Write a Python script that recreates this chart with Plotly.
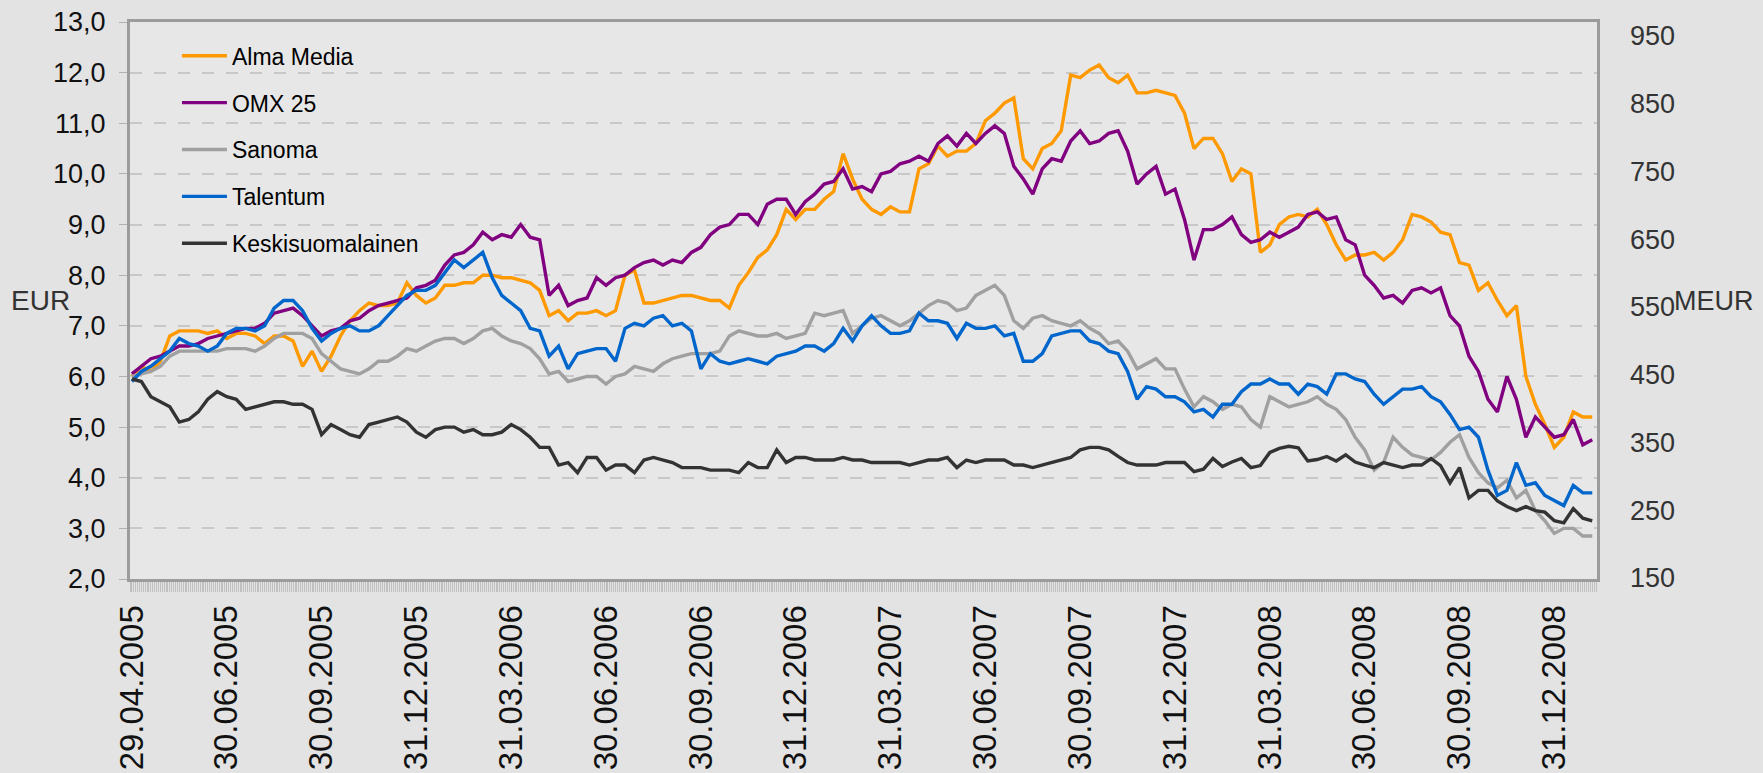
import plotly.graph_objects as go

# quarter-end tick labels, one every 10 samples
x_labels = ["29.04.2005", "30.06.2005", "30.09.2005", "31.12.2005",
            "31.03.2006", "30.06.2006", "30.09.2006", "31.12.2006",
            "31.03.2007", "30.06.2007", "30.09.2007", "31.12.2007",
            "31.03.2008", "30.06.2008", "30.09.2008", "31.12.2008"]

alma_media = [
    6.0, 6.2, 6.1, 6.3, 6.8, 6.9, 6.9, 6.9, 6.85, 6.9, 6.75, 6.85, 6.85, 6.8, 6.65, 6.8, 6.8, 6.7, 6.2, 6.5,
    6.1, 6.4, 6.8, 7.1, 7.3, 7.45, 7.4,
    7.4, 7.45, 7.85, 7.6, 7.45, 7.55, 7.8, 7.8, 7.85, 7.85, 8.0, 8.0, 7.95, 7.95, 7.9, 7.85, 7.7, 7.2, 7.3,
    7.1, 7.25, 7.25, 7.3, 7.2, 7.3, 8.0,
    8.1, 7.45, 7.45, 7.5, 7.55, 7.6, 7.6, 7.55, 7.5, 7.5, 7.35, 7.8, 8.05, 8.35, 8.5, 8.8, 9.3, 9.1, 9.3,
    9.3, 9.5, 9.65, 10.4, 9.9, 9.5,
    9.3, 9.2, 9.35, 9.25, 9.25, 10.1, 10.2, 10.55, 10.35, 10.45, 10.45, 10.6, 11.05, 11.2, 11.4, 11.5, 10.3,
    10.1, 10.5, 10.6, 10.85, 11.95, 11.9, 12.05, 12.15, 11.9,
    11.8, 11.95, 11.6, 11.6, 11.65, 11.6, 11.55, 11.2, 10.5, 10.7, 10.7, 10.4, 9.85, 10.1, 10.0,
    8.45, 8.6, 9.0, 9.15, 9.2, 9.15, 9.3, 9.0, 8.6, 8.3, 8.4,
    8.4, 8.45, 8.3, 8.45, 8.7, 9.2, 9.15, 9.05, 8.85, 8.8, 8.25, 8.2, 7.7, 7.85, 7.5, 7.2, 7.4, 6.0, 5.45,
    5.05, 4.6, 4.8, 5.3, 5.2, 5.2,
]

omx_25 = [
    6.05, 6.2, 6.35, 6.4, 6.5, 6.6, 6.6, 6.65, 6.75, 6.8, 6.85, 6.9, 6.95, 6.95, 7.05, 7.25, 7.3, 7.35, 7.2,
    7.0, 6.8, 6.9, 6.95, 7.1, 7.15, 7.3, 7.4,
    7.45, 7.5, 7.55, 7.75, 7.8, 7.9, 8.2, 8.4, 8.45, 8.6, 8.85, 8.7, 8.8, 8.75, 9.0, 8.75, 8.7, 7.6, 7.8,
    7.4, 7.5, 7.55, 7.95, 7.8, 7.95, 8.0,
    8.15, 8.25, 8.3, 8.2, 8.3, 8.25, 8.45, 8.55, 8.8, 8.95, 9.0, 9.2, 9.2, 9.0, 9.4, 9.5, 9.5, 9.2, 9.45,
    9.6, 9.8, 9.85, 10.1, 9.7, 9.75,
    9.65, 10.0, 10.05, 10.2, 10.25, 10.35, 10.25, 10.6, 10.75, 10.55, 10.8, 10.6, 10.8, 10.95, 10.8, 10.15,
    9.9, 9.6, 10.1, 10.3, 10.25, 10.65, 10.85, 10.6, 10.65, 10.8,
    10.85, 10.45, 9.8, 10.0, 10.15, 9.6, 9.7, 9.1, 8.3, 8.9, 8.9, 9.0, 9.15, 8.8, 8.65, 8.7, 8.85, 8.75,
    8.85, 8.95, 9.2, 9.25, 9.1, 9.15, 8.7, 8.6,
    8.0, 7.8, 7.55, 7.6, 7.45, 7.7, 7.75, 7.65, 7.75, 7.2, 7.0, 6.4, 6.1, 5.55, 5.3, 6.0, 5.55, 4.8, 5.2,
    5.0, 4.8, 4.85, 5.15, 4.65, 4.75,
]

sanoma = [
    6.0, 6.05, 6.1, 6.2, 6.4, 6.5, 6.5, 6.5, 6.5, 6.5, 6.55, 6.55, 6.55, 6.5, 6.6, 6.75, 6.85, 6.85, 6.85,
    6.75, 6.45, 6.3, 6.15, 6.1, 6.05, 6.15, 6.3,
    6.3, 6.4, 6.55, 6.5, 6.6, 6.7, 6.75, 6.75, 6.65, 6.75, 6.9, 6.95, 6.8, 6.7, 6.65, 6.55, 6.35, 6.05,
    6.1, 5.9, 5.95, 6.0, 6.0, 5.85, 6.0, 6.05,
    6.2, 6.15, 6.1, 6.25, 6.35, 6.4, 6.45, 6.45, 6.45, 6.5, 6.8, 6.9, 6.85, 6.8, 6.8, 6.85, 6.75, 6.8,
    6.85, 7.25, 7.2, 7.25, 7.3, 6.85, 7.0,
    7.15, 7.2, 7.1, 7.0, 7.1, 7.25, 7.4, 7.5, 7.45, 7.3, 7.35, 7.6, 7.7, 7.8, 7.6, 7.1, 6.95, 7.15, 7.2,
    7.1, 7.05, 7.0, 7.1, 6.95, 6.85, 6.65,
    6.7, 6.5, 6.15, 6.25, 6.35, 6.15, 6.15, 5.75, 5.4, 5.6, 5.5, 5.35, 5.45, 5.4, 5.15, 5.0, 5.6, 5.5,
    5.4, 5.45, 5.5, 5.6, 5.45, 5.35, 5.15, 4.8,
    4.55, 4.15, 4.3, 4.8, 4.6, 4.45, 4.4, 4.35, 4.5, 4.7, 4.85, 4.4, 4.1, 3.9, 3.8, 3.95, 3.6, 3.75, 3.35,
    3.15, 2.9, 3.0, 3.0, 2.85, 2.85,
]

talentum = [
    5.9, 6.1, 6.2, 6.35, 6.5, 6.75, 6.65, 6.6, 6.5, 6.6, 6.85, 6.95, 6.95, 6.9, 7.0, 7.35, 7.5, 7.5, 7.3,
    6.95, 6.7, 6.85, 6.95, 7.0, 6.9, 6.9, 7.0,
    7.2, 7.4, 7.6, 7.7, 7.7, 7.8, 8.05, 8.3, 8.15, 8.3, 8.45, 7.95, 7.6, 7.45, 7.3, 6.95, 6.9, 6.4, 6.6,
    6.15, 6.45, 6.5, 6.55, 6.55, 6.3, 6.95,
    7.05, 7.0, 7.15, 7.2, 7.0, 7.05, 6.9, 6.15, 6.45, 6.3, 6.25, 6.3, 6.35, 6.3, 6.25, 6.4, 6.45, 6.5,
    6.6, 6.6, 6.5, 6.65, 6.95, 6.7, 7.0,
    7.2, 7.0, 6.85, 6.85, 6.9, 7.25, 7.1, 7.1, 7.05, 6.75, 7.05, 6.95, 6.95, 7.0, 6.8, 6.85, 6.3, 6.3,
    6.45, 6.8, 6.85, 6.9, 6.9, 6.7, 6.65, 6.5,
    6.45, 6.1, 5.55, 5.8, 5.75, 5.6, 5.6, 5.5, 5.3, 5.35, 5.2, 5.45, 5.45, 5.7, 5.85, 5.85, 5.95, 5.85,
    5.85, 5.65, 5.85, 5.8, 5.65, 6.05, 6.05, 5.95,
    5.9, 5.65, 5.45, 5.6, 5.75, 5.75, 5.8, 5.6, 5.5, 5.25, 4.95, 5.0, 4.8, 4.15, 3.65, 3.75, 4.3, 3.85,
    3.9, 3.65, 3.55, 3.45, 3.85, 3.7, 3.7,
]

keskisuomalainen = [
    5.95, 5.9, 5.6, 5.5, 5.4, 5.1, 5.15, 5.3, 5.55, 5.7, 5.6, 5.55, 5.35, 5.4, 5.45, 5.5, 5.5, 5.45, 5.45,
    5.35, 4.85, 5.05, 4.95, 4.85, 4.8, 5.05, 5.1,
    5.15, 5.2, 5.1, 4.9, 4.8, 4.95, 5.0, 5.0, 4.9, 4.95, 4.85, 4.85, 4.9, 5.05, 4.95, 4.8, 4.6, 4.6, 4.25,
    4.3, 4.1, 4.4, 4.4, 4.15, 4.25, 4.25,
    4.1, 4.35, 4.4, 4.35, 4.3, 4.2, 4.2, 4.2, 4.15, 4.15, 4.15, 4.1, 4.3, 4.2, 4.2, 4.55, 4.3, 4.4, 4.4,
    4.35, 4.35, 4.35, 4.4, 4.35, 4.35,
    4.3, 4.3, 4.3, 4.3, 4.25, 4.3, 4.35, 4.35, 4.4, 4.2, 4.35, 4.3, 4.35, 4.35, 4.35, 4.25, 4.25, 4.2,
    4.25, 4.3, 4.35, 4.4, 4.55, 4.6, 4.6, 4.55,
    4.42, 4.3, 4.25, 4.25, 4.25, 4.3, 4.3, 4.3, 4.12, 4.17, 4.38, 4.22, 4.31, 4.38, 4.2, 4.24, 4.5, 4.58,
    4.62, 4.59, 4.33, 4.36, 4.42, 4.33, 4.45, 4.31,
    4.25, 4.2, 4.3, 4.25, 4.2, 4.25, 4.25, 4.38, 4.24, 3.9, 4.2, 3.6, 3.75, 3.75, 3.54, 3.43, 3.35, 3.43,
    3.35, 3.32, 3.15, 3.11, 3.39, 3.2, 3.15,
]

series = [
    ("Alma Media", alma_media, "#ff9900"),
    ("OMX 25", omx_25, "#800080"),
    ("Sanoma", sanoma, "#a0a0a0"),
    ("Talentum", talentum, "#0066cc"),
    ("Keskisuomalainen", keskisuomalainen, "#333333"),
]

fig = go.Figure()
for name, values, color in series:
    fig.add_trace(go.Scatter(
        x=list(range(len(values))), y=values, name=name, legendgroup=name,
        mode="lines", line=dict(color=color, width=3.4),
    ))

# empty trace so the secondary (MEUR) axis gets drawn
fig.add_trace(go.Scatter(x=[], y=[], yaxis="y2", showlegend=False, hoverinfo="skip"))

frame_color = "#9c9c9c"

fig.update_layout(
    width=1763, height=773,
    margin=dict(l=130, r=166, t=22, b=194),
    paper_bgcolor="#e3e3e3",
    plot_bgcolor="#e7e7e7",
    separators=", ",
    font=dict(family="Liberation Sans, Arial, sans-serif", color="#111111"),
    legend=dict(
        x=0.032, y=0.978, xanchor="left", yanchor="top",
        bgcolor="rgba(0,0,0,0)", font=dict(size=23, color="#000000"),
        tracegroupgap=14, itemwidth=45,
    ),
    xaxis=dict(
        range=[-0.2, 154.5],
        tickmode="array",
        tickvals=[i * 10 for i in range(len(x_labels))],
        ticktext=x_labels,
        tickangle=-90,
        tickfont=dict(size=33, color="#111111"),
        ticks="outside", ticklen=10, tickcolor="#b8b8b8",
        minor=dict(tickmode="linear", tick0=0, dtick=0.2, ticks="outside",
                   ticklen=10, tickcolor="#c0c0c0", tickwidth=1),
        showgrid=False, zeroline=False, automargin=False,
        showline=True, linecolor=frame_color, linewidth=3, mirror=True,
    ),
    yaxis=dict(
        range=[2, 13], tick0=2, dtick=1, tickformat=".1f",
        tickfont=dict(size=27, color="#111111"),
        ticks="outside", ticklen=8, tickcolor="#b0b0b0",
        ticklabelstandoff=8, automargin=False,
        showgrid=True, gridcolor="#c8c8c8", gridwidth=1.5, griddash="12px,12px",
        zeroline=False,
        showline=True, linecolor=frame_color, linewidth=3, mirror=True,
    ),
    yaxis2=dict(
        overlaying="y", anchor="x", side="right",
        range=[148.5, 970.6], tick0=150, dtick=100,
        tickfont=dict(size=27, color="#333333"),
        ticks="", ticklabelstandoff=32, automargin=False,
        showgrid=False, zeroline=False, showline=False,
    ),
    annotations=[
        dict(text="EUR", xref="paper", yref="paper", x=-0.0607, y=0.5,
             xanchor="center", yanchor="middle", showarrow=False,
             font=dict(size=28, color="#333333")),
        dict(text="MEUR", xref="paper", yref="paper", x=1.0798, y=0.5,
             xanchor="center", yanchor="middle", showarrow=False,
             font=dict(size=27, color="#333333")),
    ],
)

# drop the browser's default body margin so the figure sits at the window corner
fig.write_html("out.html", config={"displayModeBar": False},
               post_script="document.body.style.margin='0';")
